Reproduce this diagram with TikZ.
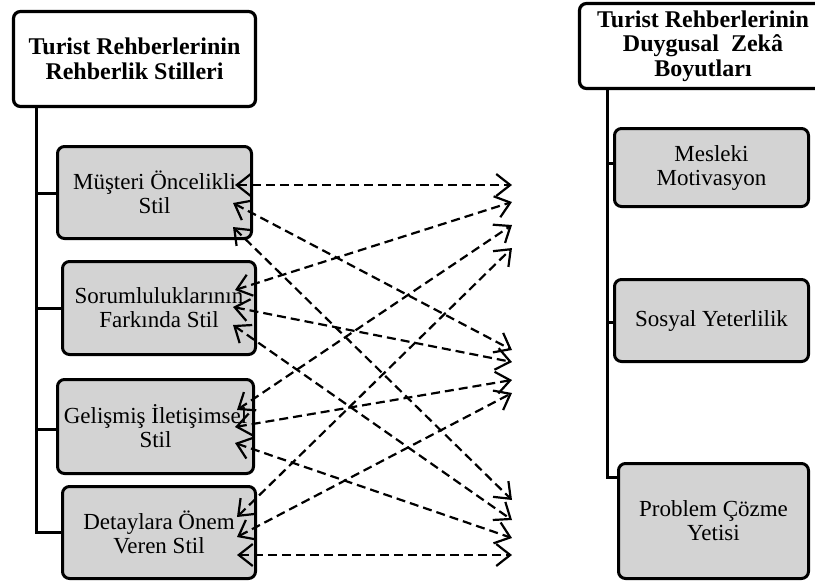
\documentclass[tikz,border=0pt]{standalone}
\usepackage{fontspec}
\setmainfont{Liberation Serif}
\usetikzlibrary{arrows.meta}
\definecolor{boxgray}{RGB}{211,211,211}
\begin{document}
\begin{tikzpicture}[x=1pt,y=-1pt,
  titlebox/.style={draw, line width=3.2pt, rounded corners=7pt, fill=white, align=center,
    font=\fontsize{24}{24.5}\selectfont\bfseries, inner sep=0pt},
  itembox/.style={draw, line width=3pt, rounded corners=7pt, fill=boxgray, align=center,
    font=\fontsize{23}{24}\selectfont, inner sep=0pt},
  trunk/.style={line width=3pt},
  link/.style={line width=2.2pt, dash pattern=on 9pt off 5pt,
    {Straight Barb[length=14pt,width=22pt]}-{Straight Barb[length=14pt,width=22pt]}}
]
\useasboundingbox (0,0) rectangle (815,582);

% left column
\node[titlebox, minimum width=242pt, minimum height=95pt] (lt) at (134.5,59) {Turist Rehberlerinin\\Rehberlik Stilleri};
\node[itembox, minimum width=194pt, minimum height=92pt] (l1) at (154.5,192.5) {Müşteri Öncelikli\\Stil};
\node[itembox, minimum width=193pt, minimum height=93pt] (l2) at (159,308) {Sorumluluklarının\\Farkında Stil};
\node[itembox, minimum width=196pt, minimum height=94pt] (l3) at (155.5,426.5) {Gelişmiş İletişimsel\\Stil};
\node[itembox, minimum width=193pt, minimum height=92pt] (l4) at (159,532.5) {Detaylara Önem\\Veren Stil};

\coordinate (ltop) at (36,108);
\draw[trunk] (ltop) |- (l4.west);
\draw[trunk] (36,193) -- (l1.west |- 0,193);
\draw[trunk] (ltop |- l2.west) -- (l2.west);
\draw[trunk] (36,429) -- (l3.west |- 0,429);

% right column
\node[titlebox, minimum width=247pt, minimum height=85pt] (rt) at (703,46) {Turist Rehberlerinin\\Duygusal\ \ Zekâ\\Boyutları};
\node[itembox, minimum width=194pt, minimum height=78pt] (r1) at (711.5,167.5) {Mesleki\\Motivasyon};
\node[itembox, minimum width=194pt, minimum height=82pt] (r2) at (711.5,320.5) {Sosyal Yeterlilik};
\node[itembox, minimum width=190pt, minimum height=115pt] (r3) at (713.5,521) {Problem Çözme\\Yetisi};

\coordinate (rtop) at (607,90);
\draw[trunk] (rtop) |- (r3.west |- 0,477);
\draw[trunk] (607,163) -- (r1.west |- 0,163);
\draw[trunk] (607,322) -- (r2.west |- 0,322);

% arrow end points
\coordinate (a1) at (235,185); \coordinate (b1) at (233,203); \coordinate (c1) at (233,227);
\coordinate (a2) at (235,290); \coordinate (b2) at (233,307); \coordinate (c2) at (233,325);
\coordinate (a3) at (237,410); \coordinate (b3) at (235,427); \coordinate (c3) at (235,443);
\coordinate (a4) at (237,517); \coordinate (b4) at (237,537); \coordinate (c4) at (237,555);

\coordinate (m1) at (512,185); \coordinate (m2) at (512,202); \coordinate (m3) at (512,225); \coordinate (m4) at (512,248);
\coordinate (s1) at (512,350); \coordinate (s2) at (512,362); \coordinate (s3) at (512,380); \coordinate (s4) at (512,393);
\coordinate (p1) at (512,500); \coordinate (p2) at (512,520); \coordinate (p3) at (512,538); \coordinate (p4) at (512,555);

\draw[link] (a1) -- (m1);
\draw[link] (b1) -- (s1);
\draw[link] (c1) -- (p1);
\draw[link] (a2) -- (m2);
\draw[link] (b2) -- (s2);
\draw[link] (c2) -- (p2);
\draw[link] (a3) -- (m3);
\draw[link] (b3) -- (s3);
\draw[link] (c3) -- (p3);
\draw[link] (a4) -- (m4);
\draw[link] (b4) -- (s4);
\draw[link] (c4) -- (p4);
\end{tikzpicture}
\end{document}
